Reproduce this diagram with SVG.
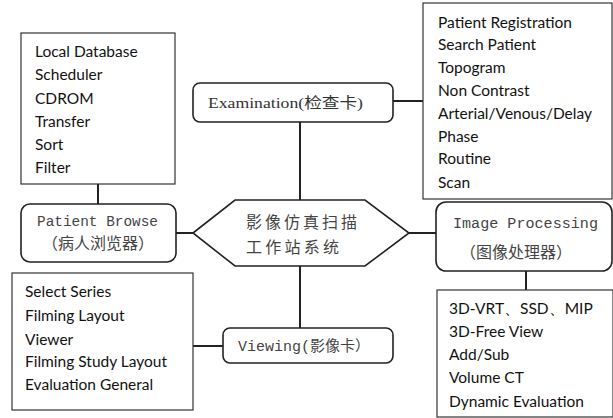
<svg xmlns="http://www.w3.org/2000/svg" width="613" height="418" viewBox="0 0 613 418">
<style>
.list{fill:#fff;stroke:#333;stroke-width:1.2}
.node{fill:#fff;stroke:#222;stroke-width:1.6}
.lt{font-family:Lato,"Open Sans",sans-serif;font-size:15.5px;fill:#111}
.mono{font-family:"Liberation Mono","Noto Sans CJK SC",monospace;font-size:14.5px;fill:#444}
.cjk{font-family:"Noto Sans CJK SC",sans-serif;font-size:16px;fill:#444}
.serif{font-family:"Liberation Serif","Noto Sans CJK SC",serif;font-size:15px;fill:#333}
.conn{stroke:#222;stroke-width:2;fill:none}
</style>
<g id="connectors">
<line class="conn" x1="98" y1="184" x2="98" y2="204"/>
<line class="conn" x1="176" y1="233" x2="193" y2="233"/>
<line class="conn" x1="300" y1="122" x2="300" y2="200"/>
<line class="conn" x1="393" y1="101" x2="423" y2="101"/>
<line class="conn" x1="409" y1="233" x2="436" y2="233"/>
<line class="conn" x1="526" y1="271" x2="526" y2="290"/>
<line class="conn" x1="300" y1="266" x2="300" y2="328"/>
<line class="conn" x1="193" y1="346" x2="223" y2="346"/>
</g>
<g id="browse-list">
<rect class="list" x="21" y="33" width="154" height="151"/>
<text class="lt" x="35" y="57">Local Database</text>
<text class="lt" x="35" y="80">Scheduler</text>
<text class="lt" x="35" y="104">CDROM</text>
<text class="lt" x="35" y="127">Transfer</text>
<text class="lt" x="35" y="150">Sort</text>
<text class="lt" x="35" y="173">Filter</text>
</g>
<g id="patient-browse">
<rect class="node" x="21" y="204" width="155" height="58" rx="9"/>
<text class="mono" x="37" y="226" textLength="121" lengthAdjust="spacingAndGlyphs">Patient Browse</text>
<text class="cjk" x="42" y="249" textLength="112" lengthAdjust="spacing">（病人浏览器）</text>
</g>
<g id="center">
<polygon class="node" points="193,233 235,200 365,200 409,233 365,266 235,266"/>
<text class="cjk" x="246" y="228" font-size="17" textLength="111" lengthAdjust="spacing">影像仿真扫描</text>
<text class="cjk" x="246" y="253" font-size="17" textLength="93" lengthAdjust="spacing">工作站系统</text>
</g>
<g id="examination">
<rect class="node" x="193" y="83" width="200" height="39" rx="7"/>
<text class="serif" x="208" y="108" textLength="155" lengthAdjust="spacingAndGlyphs">Examination(检查卡)</text>
</g>
<g id="exam-list">
<rect class="list" x="423" y="3" width="189" height="196"/>
<text class="lt" x="438" y="28">Patient Registration</text>
<text class="lt" x="438" y="50">Search Patient</text>
<text class="lt" x="438" y="73">Topogram</text>
<text class="lt" x="438" y="96">Non Contrast</text>
<text class="lt" x="438" y="119">Arterial/Venous/Delay</text>
<text class="lt" x="438" y="142">Phase</text>
<text class="lt" x="438" y="164">Routine</text>
<text class="lt" x="438" y="188">Scan</text>
</g>
<g id="image-processing">
<rect class="node" x="436" y="202" width="176" height="69" rx="10"/>
<text class="mono" x="453" y="228" textLength="145" lengthAdjust="spacingAndGlyphs">Image Processing</text>
<text class="cjk" x="460" y="258" textLength="112" lengthAdjust="spacing">（图像处理器）</text>
</g>
<g id="processing-list">
<rect class="list" x="437" y="290" width="176" height="127"/>
<text class="lt" x="449" y="314">3D-VRT、SSD、MIP</text>
<text class="lt" x="449" y="337">3D-Free View</text>
<text class="lt" x="449" y="360">Add/Sub</text>
<text class="lt" x="449" y="383">Volume CT</text>
<text class="lt" x="449" y="407">Dynamic Evaluation</text>
</g>
<g id="viewing">
<rect class="node" x="223" y="328" width="170" height="35" rx="7"/>
<text class="mono" x="238" y="351" textLength="132" lengthAdjust="spacingAndGlyphs">Viewing(影像卡）</text>
</g>
<g id="viewing-list">
<rect class="list" x="12" y="273" width="181" height="137"/>
<text class="lt" x="25" y="297">Select Series</text>
<text class="lt" x="25" y="321">Filming Layout</text>
<text class="lt" x="25" y="345">Viewer</text>
<text class="lt" x="25" y="367">Filming Study Layout</text>
<text class="lt" x="25" y="390">Evaluation General</text>
</g>
</svg>
